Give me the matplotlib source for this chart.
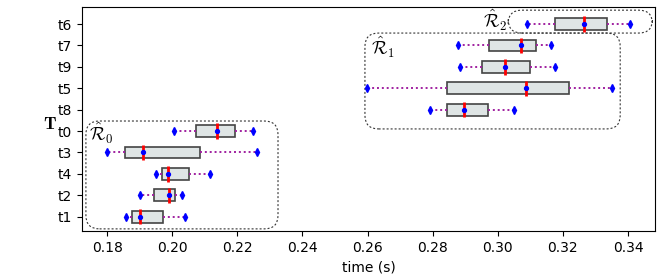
import matplotlib
matplotlib.use('Agg')
import matplotlib.pyplot as plt
from matplotlib.patches import FancyBboxPatch

plt.rcParams['mathtext.fontset'] = 'cm'

# tasks, bottom to top
tasks = ['t1', 't2', 't4', 't3', 't0', 't8', 't5', 't9', 't7', 't6']
t_min = [0.1857, 0.1901, 0.1950, 0.1800, 0.2005, 0.2792, 0.2599, 0.2885, 0.2878, 0.3090]
t_q1 = [0.1877, 0.1945, 0.1968, 0.1854, 0.2072, 0.2843, 0.2843, 0.2953, 0.2974, 0.3177]
t_med = [0.1900, 0.1990, 0.1986, 0.1909, 0.2137, 0.2896, 0.3088, 0.3022, 0.3071, 0.3265]
t_q3 = [0.1971, 0.2010, 0.2052, 0.2086, 0.2194, 0.2971, 0.3220, 0.3100, 0.3118, 0.3336]
t_max = [0.2040, 0.2029, 0.2116, 0.2260, 0.2248, 0.3049, 0.3352, 0.3177, 0.3163, 0.3405]

# regions: (label, x0, x1, y0, y1)
regions = [
    (r'$\hat{\mathcal{R}}_0$', 0.1735, 0.2325, 0.43, 5.47),
    (r'$\hat{\mathcal{R}}_1$', 0.2592, 0.3376, 5.10, 9.58),
    (r'$\hat{\mathcal{R}}_2$', 0.3032, 0.3475, 9.58, 10.65),
]

fig = plt.figure(figsize=(6.64, 2.78), dpi=100)
ax = fig.add_axes([0.1235, 0.169, 0.863, 0.806])

pos = list(range(1, len(tasks) + 1))
stats = []
for i, name in enumerate(tasks):
    stats.append(dict(label=name, med=t_med[i], q1=t_q1[i], q3=t_q3[i],
                      whislo=t_min[i], whishi=t_max[i], fliers=[]))

ax.bxp(stats, positions=pos, vert=False, widths=0.55, patch_artist=True,
       showcaps=False, showfliers=False,
       boxprops=dict(facecolor='#dfe5e5', edgecolor='#444444', linewidth=1.2),
       whiskerprops=dict(color='#a020a0', linestyle=(0, (1, 1.5)), linewidth=1.4),
       medianprops=dict(linewidth=0))

# median red line, slightly taller than box
ax.vlines(t_med, [p - 0.36 for p in pos], [p + 0.36 for p in pos],
          color='red', linewidth=2, zorder=4)
ax.plot(t_min, pos, 'd', color='blue', markersize=4, zorder=5)
ax.plot(t_max, pos, 'd', color='blue', markersize=4, zorder=5)
ax.plot(t_med, pos, 'o', color='blue', markersize=2.8, zorder=5)

# dashed rounded boxes around regions
rx = 0.0042
for label, x0, x1, y0, y1 in regions:
    p = FancyBboxPatch((x0, y0), x1 - x0, y1 - y0,
                       boxstyle='round,pad=0,rounding_size=%f' % rx,
                       mutation_aspect=151, facecolor='none',
                       edgecolor='#333333', linestyle=(0, (1.8, 1.8)),
                       linewidth=0.8, zorder=1)
    ax.add_patch(p)

ax.text(0.1743, 4.91, regions[0][0], fontsize=13, ha='left', va='center')
ax.text(0.2611, 8.93, regions[1][0], fontsize=13, ha='left', va='center')
ax.text(0.3029, 10.19, regions[2][0], fontsize=13, ha='right', va='center')

ax.set_yticks(pos)
ax.set_yticklabels(tasks)
ax.set_xticks([0.18, 0.20, 0.22, 0.24, 0.26, 0.28, 0.30, 0.32, 0.34])
ax.set_xticklabels(['0.18', '0.20', '0.22', '0.24', '0.26', '0.28', '0.30', '0.32', '0.34'])
ax.set_xlim(0.1723, 0.3483)
ax.set_ylim(0.33, 10.8)
ax.set_xlabel('time (s)')
ax.set_ylabel(r'$\mathbf{T}$', rotation=0, fontsize=13, va='center', ha='center')
ax.yaxis.set_label_coords(-0.056, 0.478)

fig.savefig('out.png', dpi=100)
